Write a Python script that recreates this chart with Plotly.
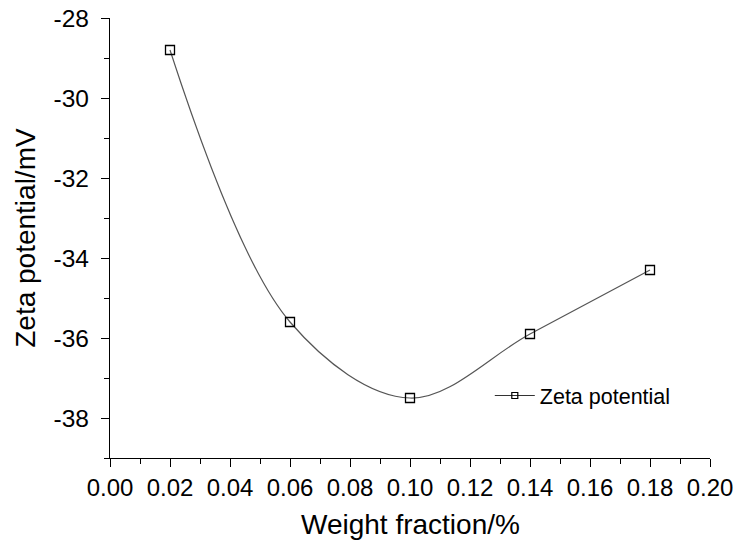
import plotly.graph_objects as go

weight_fraction = [0.02, 0.06, 0.10, 0.14, 0.18]
zeta_potential = [-28.8, -35.6, -37.5, -35.9, -34.3]
series_name = "Zeta potential"
x_ticks = [0.00, 0.02, 0.04, 0.06, 0.08, 0.10, 0.12, 0.14, 0.16, 0.18, 0.20]
y_ticks = [-38, -36, -34, -32, -30, -28]
x_title = "Weight fraction/%"
y_title = "Zeta potential/mV"

FONT = "Liberation Sans, Arial, Helvetica, sans-serif"

fig = go.Figure()
fig.add_trace(go.Scatter(
    x=weight_fraction, y=zeta_potential, mode="lines+markers",
    line=dict(shape="spline", smoothing=1.0, color="#555555", width=1.2),
    marker=dict(symbol="square-open", size=9, color="black", line=dict(width=1.3, color="black")),
    showlegend=False, cliponaxis=False,
))
fig.add_trace(go.Scatter(
    x=[None], y=[None], mode="lines+markers", name=series_name,
    line=dict(color="#333333", width=1.2),
    marker=dict(symbol="square-open", size=6, color="black", line=dict(width=1.2, color="black")),
))

fig.update_layout(
    width=733, height=541,
    margin=dict(l=110, r=23, t=18, b=83, autoexpand=False),
    paper_bgcolor="white", plot_bgcolor="white",
    font=dict(family=FONT, color="black"),
    showlegend=True,
    legend=dict(x=0.633, y=0.142, xanchor="left", yanchor="middle",
                bgcolor="rgba(0,0,0,0)", font=dict(size=21.5, family=FONT),
                itemwidth=40, tracegroupgap=0),
    xaxis=dict(
        range=[0, 0.20], tickvals=x_ticks, ticktext=[f"{v:.2f}" for v in x_ticks],
        showgrid=False, zeroline=False, showline=True, linecolor="black", linewidth=1.3,
        ticks="outside", ticklen=8, tickwidth=1.3, tickcolor="black",
        tickfont=dict(size=24, family=FONT), automargin=False, ticklabeloverflow="allow",
        minor=dict(ticks="outside", ticklen=5, tickwidth=1.3, tickcolor="black", dtick=0.01),
    ),
    yaxis=dict(
        range=[-39, -28], tickvals=y_ticks, ticktext=[f"-{abs(v)}" for v in y_ticks],
        showgrid=False, zeroline=False, showline=True, linecolor="black", linewidth=1.3,
        ticks="outside", ticklen=8, tickwidth=1.3, tickcolor="black",
        tickfont=dict(size=24.5, family=FONT), automargin=False, ticklabelstandoff=7,
        ticklabeloverflow="allow",
        minor=dict(ticks="outside", ticklen=5, tickwidth=1.3, tickcolor="black", dtick=1),
    ),
    annotations=[
        dict(text=x_title, xref="paper", yref="paper", x=0.5, y=-0.152,
             xanchor="center", yanchor="middle", showarrow=False,
             font=dict(size=28, family=FONT)),
        dict(text=y_title, xref="paper", yref="paper", x=-0.142, y=0.5,
             xanchor="center", yanchor="middle", showarrow=False, textangle=-90,
             font=dict(size=28, family=FONT)),
    ],
)

fig.write_html("out.html", config={"displayModeBar": False},
               post_script="document.body.style.margin='0';document.body.style.overflow='hidden';")
